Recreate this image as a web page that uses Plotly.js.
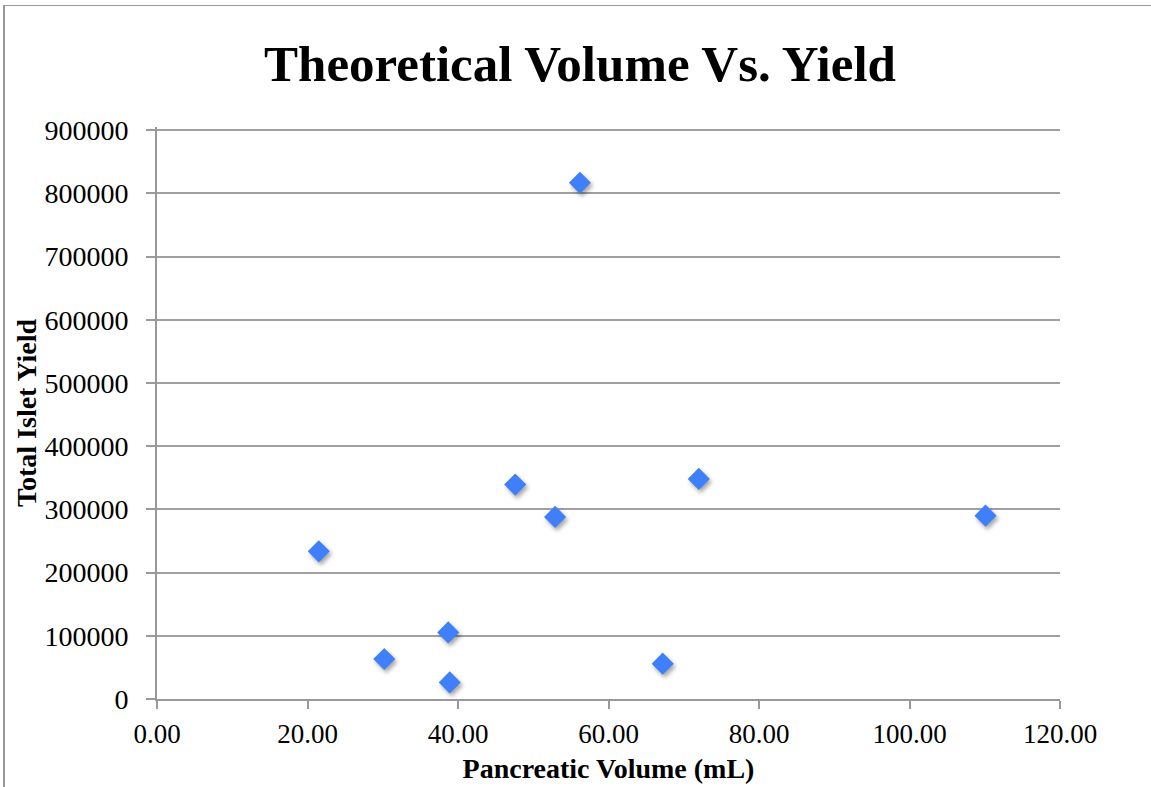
<!DOCTYPE html>
<html>
<head>
<meta charset="utf-8">
<script src="https://cdn.plot.ly/plotly-3.0.1.min.js"></script>
<style>
  html, body { margin: 0; padding: 0; background: #fff; }
  #wrap { position: relative; width: 1151px; height: 787px; }
  #chart { width: 1151px; height: 787px; }
  #frame { position: absolute; left: 3px; top: 5px; right: 0; bottom: 0;
           border-left: 2px solid #999; border-top: 1px solid #999; pointer-events: none; }
  .scatterlayer .point { filter: drop-shadow(2px 3px 2px rgba(0,0,0,0.35)); }
</style>
</head>
<body>
<div id="wrap">
  <div id="chart"></div>
  <div id="frame"></div>
</div>
<script>
const pancreaticVolume = [21.5, 30.2, 38.7, 38.9, 47.6, 52.9, 56.2, 67.2, 72.0, 110.1];
const totalIsletYield = [233600, 63300, 105400, 26300, 339200, 288100, 816700, 55900, 348200, 290100];
const xTickValues = [0, 20, 40, 60, 80, 100, 120];
const xTickLabels = ["0.00", "20.00", "40.00", "60.00", "80.00", "100.00", "120.00"];
const yTickValues = [0, 100000, 200000, 300000, 400000, 500000, 600000, 700000, 800000, 900000];
const yTickLabels = ["0", "100000", "200000", "300000", "400000", "500000", "600000", "700000", "800000", "900000"];

const serif = "'Liberation Serif', 'DejaVu Serif', serif";

const trace = {
  type: "scatter",
  mode: "markers",
  x: pancreaticVolume,
  y: totalIsletYield,
  marker: { symbol: "diamond", size: 17, color: "#3F80FA", line: { width: 0 } },
  hoverinfo: "x+y"
};

const layout = {
  width: 1151,
  height: 787,
  paper_bgcolor: "#ffffff",
  plot_bgcolor: "#ffffff",
  margin: { l: 157, r: 91, t: 127, b: 88 },
  showlegend: false,
  title: {
    text: "<b>Theoretical Volume Vs. Yield</b>",
    font: { family: serif, size: 51, color: "#000" },
    x: 580 / 1151, xanchor: "center",
    y: 1 - 63 / 787, yanchor: "middle", yref: "container"
  },
  xaxis: {
    range: [0, 120],
    tickvals: xTickValues,
    ticktext: xTickLabels,
    showgrid: false,
    zeroline: false,
    showline: true,
    linecolor: "#999",
    linewidth: 2,
    ticks: "outside",
    ticklen: 8,
    tickwidth: 2,
    tickcolor: "#999",
    tickfont: { family: serif, size: 27, color: "#000" },
    ticklabelstandoff: 2,
    title: { text: "<b>Pancreatic Volume (mL)</b>", font: { family: serif, size: 28, color: "#000" }, standoff: 10 },
    fixedrange: true
  },
  yaxis: {
    range: [0, 905000],
    tickvals: yTickValues,
    ticktext: yTickLabels,
    showgrid: true,
    gridcolor: "#a0a0a0",
    gridwidth: 2,
    zeroline: false,
    showline: true,
    linecolor: "#999",
    linewidth: 2,
    ticks: "outside",
    ticklen: 9,
    tickwidth: 2,
    tickcolor: "#999",
    tickfont: { family: serif, size: 28, color: "#000" },
    ticklabelstandoff: 12,
    title: { text: "<b>Total Islet Yield</b>", font: { family: serif, size: 28, color: "#000" }, standoff: 0 },
    fixedrange: true
  }
};

Plotly.newPlot("chart", [trace], layout, { displayModeBar: false });
</script>
</body>
</html>
